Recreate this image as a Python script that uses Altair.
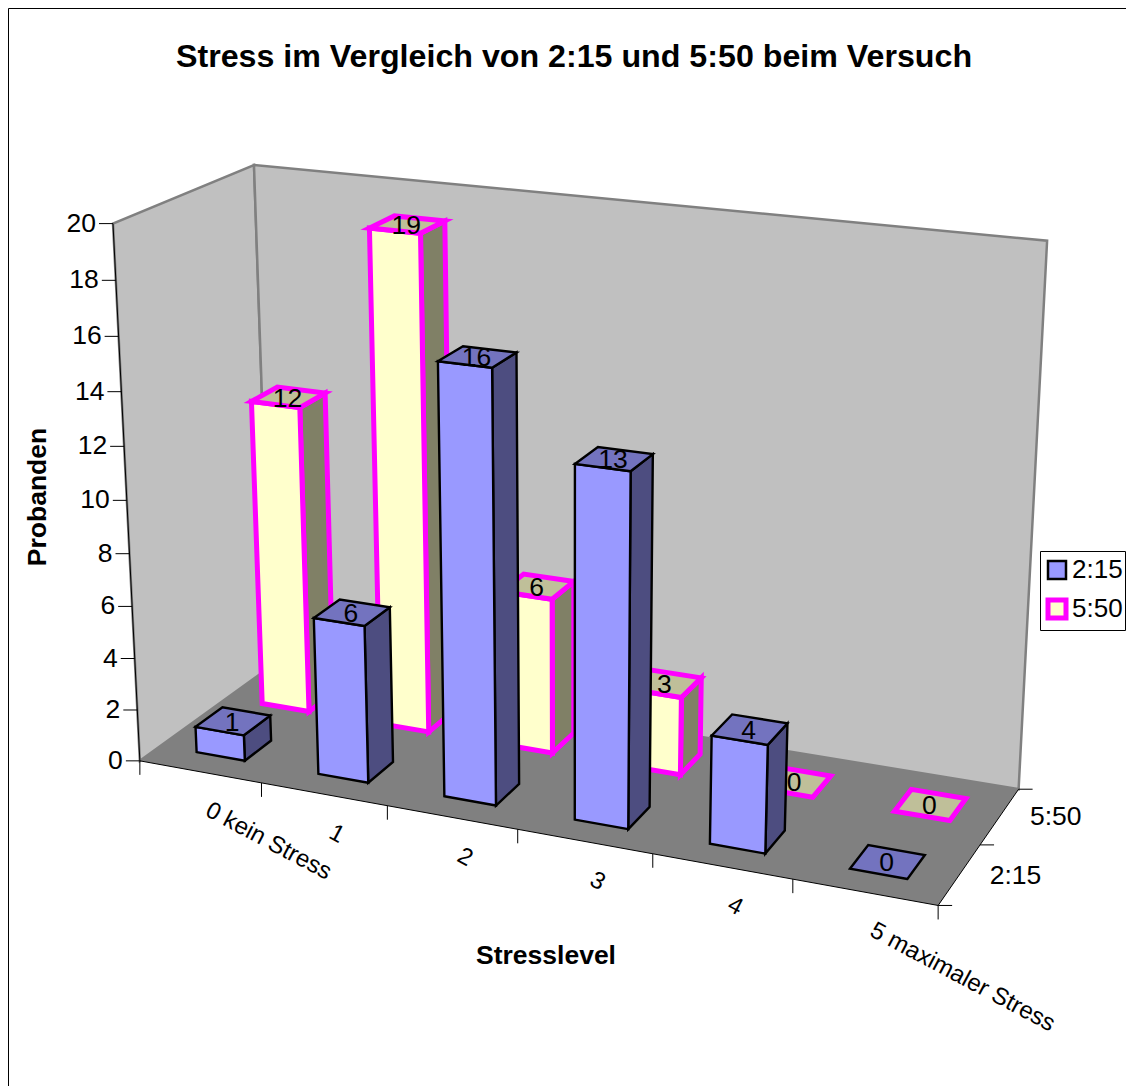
import altair as alt
import numpy as np
import pandas as pd

title_text = "Stress im Vergleich von 2:15 und 5:50 beim Versuch"
x_title = "Stresslevel"
y_title = "Probanden"
categories = ["0 kein Stress", "1", "2", "3", "4", "5 maximaler Stress"]
series = ["2:15", "5:50"]
values_215 = [1, 6, 16, 13, 4, 0]
values_550 = [12, 19, 6, 3, 0, 0]
z_ticks = list(range(0, 21, 2))

W, H = 1118, 1078
FONT = "Liberation Sans"
FS = 26.5

# camera calibration: (category position, depth position, value) -> picture position
cal_3d = [(0,0,0),(1,0,0),(2,0,0),(3,0,0),(4,0,0),(5,0,0),(6,0,0),(6,1,0),(6,2,0),(0,2,0),
          (0,0,20),(0,2,20),(6,2,20),(0,0,10)]
cal_2d = [(140,761),(262,783),(387,806),(517,829),(653,853),(793,879),(937,906),(982,845),(1018,789),(271,666),
          (113,223),(254,165),(1047,241),(127,501)]

def fit_camera(a, b):
    rows = []
    for (X, Y, Z), (u, v) in zip(a, b):
        rows.append([X, Y, Z, 1, 0, 0, 0, 0, -u*X, -u*Y, -u*Z, -u])
        rows.append([0, 0, 0, 0, X, Y, Z, 1, -v*X, -v*Y, -v*Z, -v])
    return np.linalg.svd(np.array(rows, float))[2][-1].reshape(3, 4)

P = fit_camera(cal_3d, cal_2d)

def proj(x, d, z):
    r = P @ np.array([x, d, z, 1.0])
    return float(r[0]/r[2]), float(r[1]/r[2])

polys = []
_id = [0]
def shape(pts, fill="transparent", stroke="transparent", sw=0.0, close=True):
    pts = list(pts)
    if close:
        pts = pts + [pts[0], pts[1]]
    for k, (px, py) in enumerate(pts):
        polys.append(dict(pid=_id[0], seq=k, px=px, py=py, fill=fill, stroke=stroke, sw=sw))
    _id[0] += 1

GRAY = "#808080"
# walls and floor
shape([proj(0,0,0), proj(0,2,0), proj(0,2,20), proj(0,0,20)], "#C0C0C0", GRAY, 2.5)
shape([proj(0,2,0), proj(6,2,0), proj(6,2,20), proj(0,2,20)], "#C0C0C0", GRAY, 2.5)
shape([proj(0,0,0), proj(6,0,0), proj(6,2,0), proj(0,2,0)], GRAY)

# axis lines
shape([proj(0,0,20), proj(0,0,0), proj(6,0,0), proj(6,2,0)], stroke="#000000", sw=1, close=False)
TL = 14
for z in z_ticks:
    a = proj(0,0,z)
    shape([(a[0]-TL, a[1]), a], stroke="#000000", sw=1, close=False)
for i in range(7):
    a = proj(i,0,0)
    shape([a, (a[0], a[1]+TL)], stroke="#000000", sw=1, close=False)
for d in range(3):
    a = proj(6,d,0)
    shape([a, (a[0]+TL, a[1])], stroke="#000000", sw=1, close=False)

S = {
    "2:15": dict(front="#9999FF", side="#4D4D80", top="#7373BF", stroke="#000000", sw=2.4),
    "5:50": dict(front="#FFFFCC", side="#808066", top="#BFBF99", stroke="#FF00FF", sw=5),
}
GAP = 0.3
labels = []
def bar(i, row, v, st):
    x0, x1 = i+GAP, i+1-GAP
    d0, d1 = row+GAP, row+1-GAP
    if v > 0:
        shape([proj(x1,d0,0), proj(x1,d1,0), proj(x1,d1,v), proj(x1,d0,v)], st["side"], st["stroke"], st["sw"])
        shape([proj(x0,d0,0), proj(x1,d0,0), proj(x1,d0,v), proj(x0,d0,v)], st["front"], st["stroke"], st["sw"])
    shape([proj(x0,d0,v), proj(x1,d0,v), proj(x1,d1,v), proj(x0,d1,v)], st["top"], st["stroke"], st["sw"])
    c = proj(i+.5, row+.5, v)
    labels.append(dict(px=c[0]-1, py=c[1]+1.5, t=str(v)))

for i, v in enumerate(values_550):
    bar(i, 1, v, S["5:50"])
for i, v in enumerate(values_215):
    bar(i, 0, v, S["2:15"])

df_poly = pd.DataFrame(polys)
X = alt.X("px:Q", scale=alt.Scale(domain=[8, 8+W], nice=False, zero=False), axis=None)
Y = alt.Y("py:Q", scale=alt.Scale(domain=[8+H, 8], nice=False, zero=False), axis=None)

frame = pd.DataFrame([dict(seq=0, px=8.5, py=8+H), dict(seq=1, px=8.5, py=8.5), dict(seq=2, px=8+W, py=8.5)])
l_frame = alt.Chart(frame).mark_line(color="#000000", strokeWidth=1).encode(x=X, y=Y, order="seq:Q")

anchor = proj(3, 2, 10)
df_leg = pd.DataFrame([dict(px=anchor[0], py=anchor[1], s=s) for s in series])
dom = series
leg = alt.Legend(title=" ", titleFontSize=3, titlePadding=1, orient="none", legendX=1032, legendY=543,
                 fillColor="#FFFFFF", strokeColor="#000000",
                 symbolType="square", symbolSize=324, labelFont=FONT, labelFontSize=26, labelColor="#000000",
                 padding=2, rowPadding=6, labelOffset=2, symbolOffset=2, symbolOpacity=1)
l_leg = alt.Chart(df_leg).mark_square(size=4, opacity=1).encode(
    x=X, y=Y,
    fill=alt.Fill("s:N", scale=alt.Scale(domain=dom, range=[S[s]["front"] for s in series]), legend=leg),
    stroke=alt.Stroke("s:N", scale=alt.Scale(domain=dom, range=[S[s]["stroke"] for s in series]), legend=leg),
    strokeWidth=alt.StrokeWidth("s:N", scale=alt.Scale(domain=dom, range=[2.5, 5]), legend=leg),
)

l_poly = alt.Chart(df_poly).mark_line(strokeJoin="miter", strokeMiterLimit=10, interpolate="linear").encode(
    x=X, y=Y, detail="pid:N", order="seq:Q",
    fill=alt.Fill("fill:N", scale=None, legend=None),
    stroke=alt.Stroke("stroke:N", scale=None, legend=None),
    strokeWidth=alt.StrokeWidth("sw:Q", scale=None, legend=None),
)

# text tables
center = list(labels)
right = []
left = []
for z in z_ticks:
    a = proj(0,0,z)
    right.append(dict(px=a[0]-17, py=a[1], t=str(z)))
for i, c in enumerate(categories):
    a = proj(i+.5,0,0)
    left.append(dict(px=a[0]+7, py=a[1]+37, t=c))
for k, s in enumerate(series):
    a = proj(6,k+.5,0)
    center.append(dict(px=a[0]+56, py=a[1]+1, t=s))

def text_layer(rows, align, angle=0, weight="normal", size=FS):
    return alt.Chart(pd.DataFrame(rows)).mark_text(align=align, baseline="middle", font=FONT, fontSize=size,
        fontWeight=weight, angle=angle, color="#000000").encode(x=X, y=Y, text="t:N")

chart = alt.layer(
    l_leg, l_frame, l_poly,
    text_layer(center, "center"),
    text_layer(right, "right"),
    text_layer(left, "left", angle=28, size=24),
    text_layer([dict(px=574, py=57, t=title_text)], "center", weight="bold", size=32.2),
    text_layer([dict(px=546, py=956, t=x_title)], "center", weight="bold"),
    text_layer([dict(px=38, py=497, t=y_title)], "center", angle=270, weight="bold"),
).properties(width=W, height=H, padding=0, autosize=alt.AutoSizeParams(type="none"),
             background="#FFFFFF").configure_view(stroke=None)

chart.save("out.html", embed_options={"renderer": "svg", "actions": False})
